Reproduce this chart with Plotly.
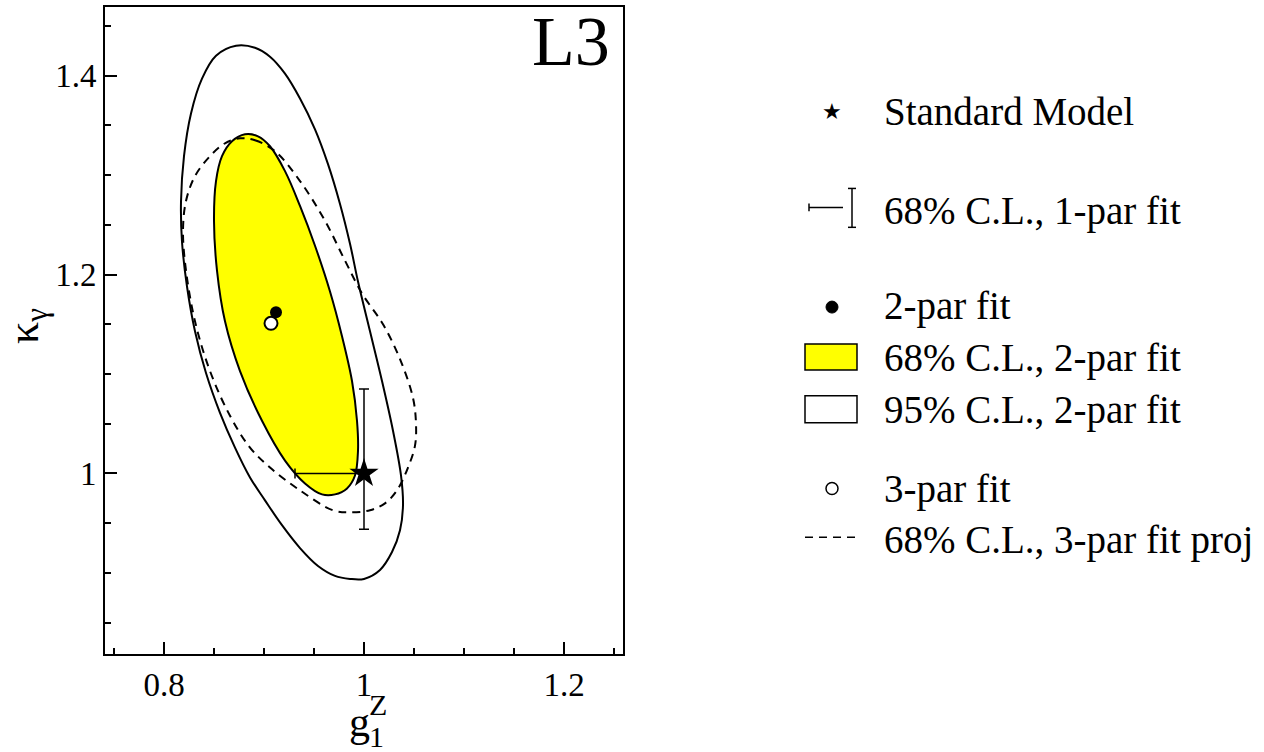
import plotly.graph_objects as go

# ---------------- data ----------------
cl95_x = [0.872, 0.891, 0.906, 0.921, 0.936, 0.951, 0.964, 0.976, 0.986, 0.994, 1.006, 1.018,
          1.029, 1.037, 1.039, 1.036, 1.028, 1.016, 1.000, 0.986, 0.971, 0.954, 0.936, 0.918,
          0.901, 0.886, 0.871, 0.856, 0.842, 0.831, 0.823, 0.818, 0.817, 0.820, 0.827, 0.838, 0.852]
cl95_y = [1.430, 1.428, 1.419, 1.402, 1.377, 1.346, 1.311, 1.271, 1.231, 1.193, 1.143, 1.093,
          1.043, 0.998, 0.968, 0.943, 0.921, 0.903, 0.894, 0.894, 0.897, 0.907, 0.925, 0.948,
          0.973, 0.996, 1.026, 1.061, 1.101, 1.143, 1.188, 1.233, 1.273, 1.319, 1.362, 1.397, 1.420]

cl68_x = [0.881, 0.894, 0.906, 0.921, 0.936, 0.951, 0.966, 0.978, 0.988, 0.993, 0.994, 0.991,
          0.983, 0.971, 0.958, 0.941, 0.921, 0.898, 0.876, 0.861, 0.853, 0.850, 0.852, 0.858, 0.868]
cl68_y = [1.341, 1.339, 1.329, 1.304, 1.269, 1.229, 1.183, 1.138, 1.093, 1.053, 1.023, 0.998,
          0.985, 0.979, 0.979, 0.990, 1.013, 1.053, 1.103, 1.153, 1.204, 1.254, 1.294, 1.319, 1.334]

proj3_x = [0.876, 0.891, 0.911, 0.936, 0.961, 0.981, 0.998, 1.019, 1.036, 1.049, 1.052, 1.051,
           1.044, 1.033, 1.021, 1.006, 0.986, 0.969, 0.936, 0.906, 0.886, 0.866, 0.846, 0.831,
           0.822, 0.819, 0.822, 0.831, 0.846, 0.861]
proj3_y = [1.337, 1.335, 1.324, 1.294, 1.254, 1.214, 1.181, 1.150, 1.115, 1.076, 1.050, 1.028,
           1.006, 0.983, 0.970, 0.963, 0.961, 0.963, 0.983, 1.006, 1.026, 1.058, 1.103, 1.153,
           1.204, 1.244, 1.274, 1.299, 1.319, 1.332]

sm_x = [1.0]
sm_y = [1.0]
err1_x_minus = [0.069]
err1_x_plus = [0.0]
err1_y_minus = [0.056]
err1_y_plus = [0.085]

fit2_x = [0.912]
fit2_y = [1.162]
fit3_x = [0.907]
fit3_y = [1.151]

legend_labels = ["Standard Model", "68% C.L., 1-par fit", "2-par fit", "68% C.L., 2-par fit",
                 "95% C.L., 2-par fit", "3-par fit", "68% C.L., 3-par fit proj"]

FONT = "Liberation Serif, Times New Roman, serif"

# ---------------- figure ----------------
fig = go.Figure()

def closed(a):
    return list(a) + [a[0]]

fig.add_trace(go.Scatter(x=closed(cl95_x), y=closed(cl95_y), mode="lines",
                         line=dict(color="black", width=2, shape="spline", smoothing=1.0),
                         fill="toself", fillcolor="white", hoverinfo="skip"))
fig.add_trace(go.Scatter(x=closed(cl68_x), y=closed(cl68_y), mode="lines",
                         line=dict(color="black", width=2, shape="spline", smoothing=1.0),
                         fill="toself", fillcolor="#ffff00", hoverinfo="skip"))
fig.add_trace(go.Scatter(x=closed(proj3_x), y=closed(proj3_y), mode="lines",
                         line=dict(color="black", width=2, dash="8px,6px", shape="spline", smoothing=1.0),
                         hoverinfo="skip"))

fig.add_trace(go.Scatter(x=sm_x, y=sm_y, mode="markers",
                         marker=dict(symbol="star", size=22, color="black"),
                         error_x=dict(type="data", symmetric=False, array=err1_x_plus,
                                      arrayminus=err1_x_minus, color="black", thickness=1.5, width=5),
                         error_y=dict(type="data", symmetric=False, array=err1_y_plus,
                                      arrayminus=err1_y_minus, color="black", thickness=1.5, width=5)))

fig.add_trace(go.Scatter(x=fit3_x, y=fit3_y, mode="markers",
                         marker=dict(symbol="circle", size=13, color="white",
                                     line=dict(color="black", width=2))))
fig.add_trace(go.Scatter(x=fit2_x, y=fit2_y, mode="markers",
                         marker=dict(symbol="circle", size=12, color="black")))

# ---------------- layout ----------------
L, R, T, B = 105, 623, 5, 654
W, H = 1264, 752

def px(x):
    return (x - L) / (R - L)

def py(y):
    return (B - y) / (B - T)

axis_common = dict(showline=True, linecolor="black", linewidth=2, mirror=True,
                   ticks="inside", ticklen=12, tickwidth=1.5, tickcolor="black",
                   showgrid=False, zeroline=False,
                   tickfont=dict(family=FONT, size=33, color="black"),
                   minor=dict(ticks="inside", ticklen=6, tickwidth=1.5, tickcolor="black", dtick=0.05))

fig.update_layout(
    width=W, height=H,
    margin=dict(l=L, r=W - R, t=T, b=H - B),
    paper_bgcolor="white", plot_bgcolor="white",
    showlegend=False,
    xaxis=dict(range=[0.741, 1.259], tick0=0.8, dtick=0.2, **axis_common),
    yaxis=dict(range=[0.8185, 1.469], tick0=1.0, dtick=0.2, **axis_common),
)

ann = []
# L3 label
ann.append(dict(x=px(612), y=py(40), xref="paper", yref="paper", text="L3", showarrow=False,
                xanchor="right", yanchor="middle", font=dict(family=FONT, size=70, color="black")))
# axis titles
ann.append(dict(x=px(359), y=py(722), xref="paper", yref="paper", text="g", showarrow=False,
                xanchor="center", yanchor="middle", font=dict(family=FONT, size=42, color="black")))
ann.append(dict(x=px(367), y=py(705), xref="paper", yref="paper", text="Z", showarrow=False,
                xanchor="left", yanchor="middle", font=dict(family=FONT, size=30, color="black")))
ann.append(dict(x=px(367), y=py(737), xref="paper", yref="paper", text="1", showarrow=False,
                xanchor="left", yanchor="middle", font=dict(family=FONT, size=30, color="black")))
ann.append(dict(x=px(26), y=py(325), xref="paper", yref="paper", text="κ<sub>γ</sub>", showarrow=False,
                textangle=-90, xanchor="center", yanchor="middle",
                font=dict(family=FONT, size=44, color="black")))

# legend text
leg_y = [110, 210, 305, 357, 409, 488, 540]
for lab, yy in zip(legend_labels, leg_y):
    ann.append(dict(x=px(882), y=py(yy), xref="paper", yref="paper", text=lab, showarrow=False,
                    xanchor="left", yanchor="middle", font=dict(family=FONT, size=39, color="black")))
# star key
ann.append(dict(x=px(832), y=py(110), xref="paper", yref="paper", text="★", showarrow=False,
                xanchor="center", yanchor="middle", font=dict(family="DejaVu Sans", size=22, color="black")))
fig.update_layout(annotations=ann)

shapes = []
ln = dict(color="black", width=1.5)
# 1-par fit error bar key
shapes.append(dict(type="line", xref="paper", yref="paper", x0=px(809), x1=px(843), y0=py(206), y1=py(206), line=ln))
shapes.append(dict(type="line", xref="paper", yref="paper", x0=px(809), x1=px(809), y0=py(202), y1=py(210), line=ln))
shapes.append(dict(type="line", xref="paper", yref="paper", x0=px(852), x1=px(852), y0=py(187), y1=py(226), line=ln))
shapes.append(dict(type="line", xref="paper", yref="paper", x0=px(848), x1=px(856), y0=py(187), y1=py(187), line=ln))
shapes.append(dict(type="line", xref="paper", yref="paper", x0=px(848), x1=px(856), y0=py(226), y1=py(226), line=ln))
# 2-par fit dot
shapes.append(dict(type="circle", xref="paper", yref="paper", x0=px(826), x1=px(838), y0=py(300), y1=py(312),
                   fillcolor="black", line=dict(color="black", width=1)))
# boxes
shapes.append(dict(type="rect", xref="paper", yref="paper", x0=px(805), x1=px(857), y0=py(343), y1=py(369),
                   fillcolor="#ffff00", line=dict(color="black", width=1.5)))
shapes.append(dict(type="rect", xref="paper", yref="paper", x0=px(805), x1=px(857), y0=py(395), y1=py(422),
                   fillcolor="white", line=dict(color="black", width=1.5)))
# 3-par fit open circle
shapes.append(dict(type="circle", xref="paper", yref="paper", x0=px(826), x1=px(838), y0=py(482), y1=py(494),
                   fillcolor="white", line=dict(color="black", width=1.5)))
# dashed key
shapes.append(dict(type="line", xref="paper", yref="paper", x0=px(805), x1=px(857), y0=py(537), y1=py(537),
                   line=dict(color="black", width=1.5, dash="8px,6px")))
fig.update_layout(shapes=shapes)

fig.write_html("out.html")
